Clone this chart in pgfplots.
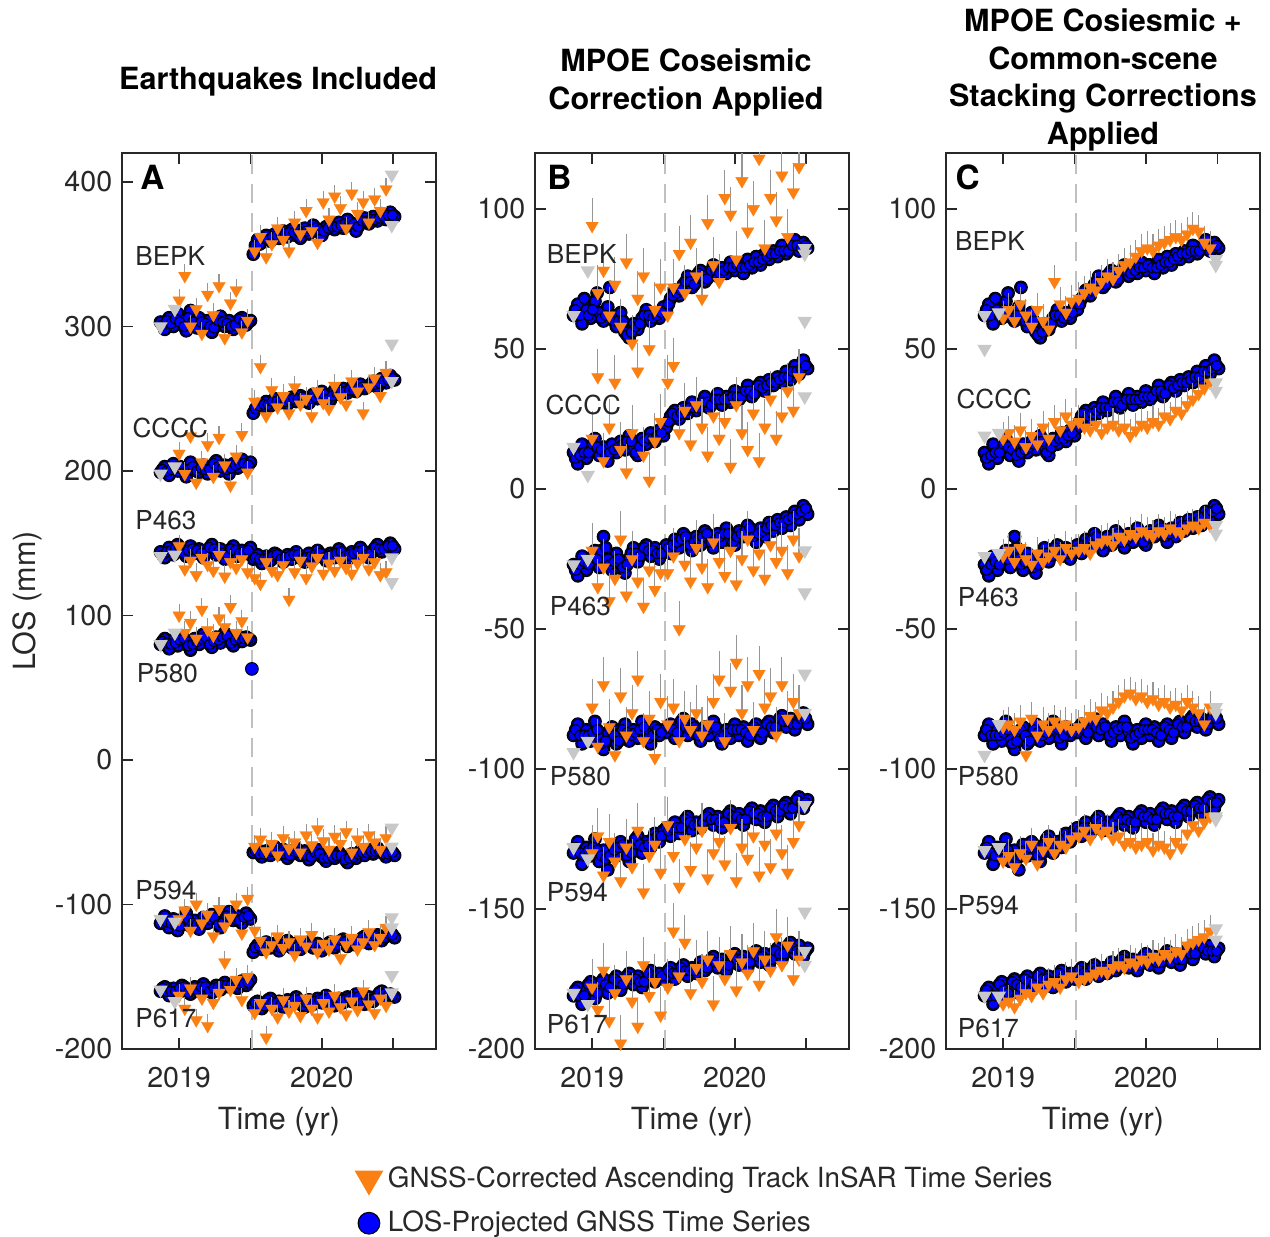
\documentclass[border=0pt]{standalone}
\usepackage{fontspec}
\setmainfont{TeX Gyre Heros}
\usepackage{pgfplots}
\pgfplotsset{compat=1.18}
\usepackage{pgfplotstable}
\definecolor{gblue}{RGB}{0,0,255}
\definecolor{iorange}{RGB}{250,128,20}
\definecolor{lgray}{RGB}{200,200,200}
\definecolor{qgray}{RGB}{192,192,192}
\definecolor{ebgray}{RGB}{150,150,150}
\definecolor{axgray}{RGB}{40,40,40}

% GNSS, panel A (with coseismic steps)
\pgfplotstableread{
t bepk cccc p463 p580 p594 p617
2018.87 303 199 144 80 -113 -160
2018.90 298 203 140 84 -108 -157
2018.93 306 197 147 77 -116 -163
2018.96 300 205 142 83 -110 -158
2018.99 309 200 149 79 -118 -161
2019.02 304 202 145 86 -112 -156
2019.05 297 196 141 81 -106 -159
2019.08 311 206 148 76 -115 -162
2019.11 302 201 143 84 -111 -157
2019.14 306 199 146 80 -117 -160
2019.17 299 204 140 87 -109 -155
2019.20 304 198 145 82 -113 -158
2019.23 296 203 149 78 -107 -161
2019.26 301 207 142 85 -112 -156
2019.29 307 200 146 81 -116 -159
2019.32 300 204 139 88 -110 -154
2019.35 304 198 144 83 -105 -157
2019.38 298 205 148 79 -111 -155
2019.41 303 202 141 86 -108 -158
2019.44 306 208 145 82 -113 -153
2019.47 301 203 143 85 -106 -156
2019.50 304 206 147 83 -110 -152
2019.52 350 240 139 -64 -133 -170
2019.55 360 246 142 -62 -128 -167
2019.58 358 244 136 -67 -131 -172
2019.61 363 248 141 -63 -126 -168
2019.64 359 245 138 -66 -130 -165
2019.67 364 250 143 -60 -127 -170
2019.70 361 247 140 -65 -132 -167
2019.73 366 249 137 -62 -128 -171
2019.76 362 246 142 -68 -125 -166
2019.79 367 251 139 -64 -130 -169
2019.82 363 248 144 -61 -127 -164
2019.85 361 252 140 -66 -131 -168
2019.88 368 249 137 -63 -128 -171
2019.91 364 247 143 -69 -126 -166
2019.94 370 253 139 -65 -130 -169
2019.97 366 250 145 -62 -127 -165
2020.00 363 255 141 -67 -132 -168
2020.03 369 251 138 -70 -129 -163
2020.06 371 249 143 -66 -126 -167
2020.09 367 256 140 -68 -130 -170
2020.12 372 253 146 -64 -127 -165
2020.15 368 257 142 -67 -124 -168
2020.18 374 254 139 -71 -129 -164
2020.21 370 258 144 -65 -126 -167
2020.24 366 255 141 -68 -128 -162
2020.27 372 260 147 -63 -125 -166
2020.30 375 257 143 -66 -122 -169
2020.33 371 259 140 -62 -127 -164
2020.36 376 262 145 -65 -124 -167
2020.39 373 258 149 -61 -121 -163
2020.42 378 264 144 -64 -125 -160
2020.45 374 261 147 -67 -122 -165
2020.48 379 266 150 -63 -119 -162
2020.51 376 263 146 -66 -123 -164
}\tA

% GNSS, panel A, interleaved days
\pgfplotstableread{
t bepk cccc p463 p580 p594 p617
2018.885 301 201 142 82 -111 -158
2018.915 304 200 144 81 -112 -160
2018.945 302 201 145 80 -113 -160
2018.975 305 202 146 81 -114 -160
2019.005 303 203 147 83 -115 -158
2019.035 300 199 143 84 -109 -157
2019.065 306 201 145 79 -110 -161
2019.095 303 203 146 80 -113 -159
2019.125 299 200 145 82 -114 -159
2019.155 303 202 143 84 -113 -157
2019.185 302 201 143 85 -111 -157
2019.215 300 201 147 80 -110 -160
2019.245 299 205 146 82 -109 -158
2019.275 304 203 144 83 -114 -157
2019.305 303 202 143 85 -113 -156
2019.335 302 201 142 86 -108 -156
2019.365 300 202 146 81 -108 -156
2019.395 301 204 145 83 -110 -157
2019.425 305 205 143 84 -111 -155
2019.455 303 205 144 84 -109 -155
2019.485 303 204 145 84 -108 -154
2019.535 356 243 140 -63 -130 -168
2019.565 357 245 139 -65 -129 -170
2019.595 361 246 139 -65 -128 -170
2019.625 360 246 140 -64 -128 -166
2019.655 362 248 141 -63 -128 -168
2019.685 363 248 142 -63 -129 -168
2019.715 364 248 139 -64 -130 -169
2019.745 364 248 140 -65 -127 -168
2019.775 365 249 141 -66 -127 -168
2019.805 365 250 142 -63 -128 -166
2019.835 366 250 142 -64 -129 -166
2019.865 365 251 139 -65 -129 -170
2019.895 366 248 140 -66 -127 -168
2019.925 367 250 141 -67 -128 -168
2019.955 368 251 142 -64 -128 -167
2019.985 367 252 143 -65 -129 -166
2020.015 366 253 140 -68 -130 -165
2020.045 368 250 141 -68 -127 -165
2020.075 369 252 142 -67 -128 -169
2020.105 369 254 143 -66 -128 -167
2020.135 370 255 144 -66 -125 -166
2020.165 371 255 141 -69 -126 -166
2020.195 372 256 142 -68 -127 -165
2020.225 371 256 143 -67 -127 -164
2020.255 369 257 144 -65 -126 -164
2020.285 373 258 145 -64 -123 -168
2020.315 373 258 142 -64 -124 -166
2020.345 374 260 143 -63 -125 -166
2020.375 374 260 147 -63 -122 -165
2020.405 375 261 146 -63 -123 -161
2020.435 376 262 146 -65 -123 -162
2020.465 377 263 148 -65 -120 -163
2020.495 377 264 148 -64 -121 -163
}\tAb

% GNSS, panels B and C
\pgfplotstableread{
t bepk cccc p463 p580 p594 p617
2018.87 62 13 -27 -88 -130 -181
2018.90 66 9 -31 -84 -126 -178
2018.93 59 16 -24 -91 -134 -184
2018.96 64 11 -29 -86 -128 -179
2018.99 61 14 -26 -90 -131 -176
2019.02 67 18 -22 -83 -125 -182
2019.05 63 12 -28 -89 -133 -178
2019.08 60 15 -17 -93 -129 -175
2019.11 65 10 -25 -87 -136 -180
2019.14 62 16 -29 -85 -127 -177
2019.17 58 13 -23 -91 -131 -174
2019.20 63 17 -27 -88 -126 -179
2019.23 56 14 -30 -84 -129 -176
2019.26 54 19 -25 -90 -133 -173
2019.29 59 15 -21 -86 -127 -177
2019.32 57 12 -26 -89 -124 -174
2019.35 61 18 -23 -83 -130 -178
2019.38 64 16 -20 -87 -126 -175
2019.41 60 20 -24 -91 -128 -172
2019.44 63 17 -21 -85 -123 -176
2019.47 61 21 -25 -88 -126 -173
2019.50 65 19 -22 -86 -122 -175
2019.52 64 22 -20 -87 -121 -174
2019.55 68 26 -23 -84 -124 -171
2019.58 71 28 -18 -89 -119 -175
2019.61 69 25 -21 -85 -123 -172
2019.64 73 29 -16 -82 -120 -170
2019.67 76 27 -19 -88 -117 -174
2019.70 72 31 -22 -84 -122 -171
2019.73 75 28 -17 -86 -119 -173
2019.76 78 30 -20 -90 -121 -169
2019.79 74 33 -15 -85 -118 -172
2019.82 77 29 -18 -88 -116 -170
2019.85 80 31 -21 -83 -120 -167
2019.88 76 34 -16 -87 -117 -171
2019.91 79 30 -19 -91 -121 -168
2019.94 77 33 -14 -86 -118 -172
2019.97 81 31 -18 -89 -115 -169
2020.00 78 35 -20 -84 -119 -166
2020.03 80 32 -15 -88 -116 -170
2020.06 77 34 -17 -85 -120 -167
2020.09 82 37 -13 -90 -117 -171
2020.12 79 33 -16 -87 -114 -168
2020.15 83 36 -19 -84 -118 -165
2020.18 80 38 -14 -89 -115 -169
2020.21 84 35 -17 -86 -119 -166
2020.24 82 39 -12 -83 -116 -170
2020.27 85 37 -15 -87 -113 -167
2020.30 83 40 -11 -84 -117 -164
2020.33 87 38 -14 -81 -114 -168
2020.36 84 42 -10 -85 -112 -165
2020.39 86 39 -13 -82 -116 -162
2020.42 89 44 -8 -86 -113 -166
2020.45 85 41 -11 -83 -110 -163
2020.48 88 46 -6 -80 -114 -167
2020.51 86 43 -9 -84 -111 -164
}\tB

% GNSS, panels B and C, interleaved days
\pgfplotstableread{
t bepk cccc p463 p580 p594 p617
2018.885 64 11 -29 -86 -128 -179
2018.915 62 12 -27 -88 -130 -181
2018.945 68 13 -26 -88 -131 -181
2018.975 62 13 -27 -88 -129 -177
2019.005 64 16 -24 -87 -128 -179
2019.035 70 15 -25 -86 -129 -180
2019.065 61 14 -22 -91 -131 -176
2019.095 62 12 -21 -90 -132 -177
2019.125 72 13 -27 -86 -131 -178
2019.155 60 14 -26 -88 -129 -175
2019.185 60 15 -25 -90 -128 -176
2019.215 60 16 -28 -86 -127 -177
2019.245 55 17 -27 -87 -131 -174
2019.275 56 17 -23 -88 -130 -175
2019.305 58 13 -23 -87 -125 -175
2019.335 59 15 -24 -86 -127 -176
2019.365 62 17 -21 -85 -128 -176
2019.395 62 18 -22 -89 -127 -173
2019.425 61 18 -22 -88 -125 -174
2019.455 62 19 -23 -86 -124 -174
2019.485 63 20 -23 -87 -124 -174
2019.535 66 24 -21 -85 -122 -172
2019.565 69 27 -20 -86 -121 -173
2019.595 70 26 -19 -87 -121 -173
2019.625 71 27 -18 -83 -121 -171
2019.655 74 28 -17 -85 -118 -172
2019.685 74 29 -20 -86 -119 -172
2019.715 73 29 -19 -85 -120 -172
2019.745 77 29 -18 -88 -120 -171
2019.775 76 31 -17 -87 -119 -170
2019.805 75 31 -16 -86 -117 -171
2019.835 78 30 -19 -85 -118 -168
2019.865 78 32 -18 -85 -118 -169
2019.895 77 32 -17 -89 -119 -169
2019.925 78 32 -16 -88 -119 -170
2019.955 79 32 -16 -87 -116 -170
2019.985 79 33 -19 -86 -117 -167
2020.015 80 33 -17 -86 -117 -168
2020.045 79 33 -16 -86 -118 -168
2020.075 79 35 -15 -87 -118 -169
2020.105 80 35 -14 -88 -115 -169
2020.135 81 34 -17 -85 -116 -166
2020.165 81 37 -16 -86 -116 -167
2020.195 82 36 -15 -87 -117 -167
2020.225 83 37 -14 -84 -117 -168
2020.255 84 38 -13 -85 -114 -168
2020.285 84 38 -13 -85 -115 -165
2020.315 85 39 -12 -82 -115 -166
2020.345 85 40 -12 -83 -113 -166
2020.375 85 40 -11 -83 -114 -163
2020.405 87 42 -10 -84 -114 -164
2020.435 87 42 -9 -84 -111 -165
2020.465 86 43 -8 -82 -112 -165
2020.495 87 44 -7 -82 -112 -165
}\tBb

% InSAR, panel A
\pgfplotstableread{
t bepk cccc p463 p580 p594 p617
2019.00 318 212 148 100 -110 -163
2019.04 335 198 132 88 -104 -172
2019.08 300 224 138 95 -118 -158
2019.12 312 192 128 84 -100 -180
2019.16 295 206 140 104 -113 -165
2019.20 322 218 135 90 -107 -184
2019.24 308 196 131 86 -122 -168
2019.28 328 223 142 98 -103 -161
2019.32 292 204 127 92 -115 -140
2019.36 316 190 137 106 -109 -159
2019.40 325 210 133 88 -100 -152
2019.44 296 225 139 96 -120 -166
2019.48 304 199 130 85 -96 -150
2019.53 352 248 126 -60 -118 -175
2019.57 362 272 122 -55 -125 -168
2019.61 348 238 137 -63 -133 -192
2019.65 357 256 131 -58 -128 -172
2019.69 368 244 128 -66 -122 -178
2019.73 360 252 135 -54 -130 -166
2019.77 352 240 111 -61 -126 -174
2019.81 372 258 130 -57 -135 -170
2019.85 364 246 138 -64 -124 -177
2019.89 380 250 126 -52 -129 -165
2019.93 366 238 134 -59 -121 -172
2019.97 358 255 140 -48 -133 -178
2020.01 386 247 129 -56 -127 -168
2020.05 374 243 136 -62 -131 -174
2020.09 390 259 131 -53 -124 -163
2020.13 382 251 138 -58 -137 -171
2020.17 368 246 133 -50 -128 -176
2020.21 392 262 129 -64 -123 -167
2020.25 378 255 136 -55 -131 -173
2020.29 386 240 140 -60 -126 -160
2020.33 372 258 132 -52 -119 -169
2020.37 388 264 137 -57 -128 -175
2020.41 380 252 128 -62 -123 -165
2020.45 395 268 130 -54 -116 -170
}\iA

% InSAR, panel B
\pgfplotstableread{
t bepk cccc p463 p580 p594 p617
2019.00 94 18 -22 -78 -130 -178
2019.04 70 40 -35 -92 -124 -186
2019.08 78 10 -28 -70 -138 -172
2019.12 62 22 -40 -85 -126 -190
2019.16 73 38 -32 -95 -133 -180
2019.20 58 14 -18 -74 -140 -198
2019.24 81 6 -38 -88 -128 -175
2019.28 52 20 -25 -80 -135 -183
2019.32 68 42 -33 -68 -122 -192
2019.36 76 12 -42 -90 -144 -170
2019.40 50 3 -29 -82 -131 -181
2019.44 64 17 -36 -96 -127 -176
2019.48 72 24 -30 -76 -137 -188
2019.53 62 38 -30 -84 -120 -178
2019.57 72 44 -24 -78 -131 -158
2019.61 84 20 -50 -90 -142 -174
2019.65 70 28 -27 -82 -125 -162
2019.69 88 16 -33 -86 -136 -180
2019.73 76 30 -21 -80 -128 -171
2019.77 68 22 -28 -88 -122 -176
2019.81 95 12 -35 -84 -139 -168
2019.85 80 26 -19 -76 -130 -184
2019.89 74 18 -26 -68 -126 -170
2019.93 104 24 -31 -90 -134 -175
2019.97 98 8 -22 -72 -121 -166
2020.01 82 30 -34 -62 -140 -179
2020.05 110 20 -25 -80 -128 -169
2020.09 92 14 -18 -70 -132 -173
2020.13 100 27 -29 -86 -124 -165
2020.17 118 10 -23 -66 -138 -177
2020.21 86 22 -32 -78 -127 -168
2020.25 104 32 -20 -74 -135 -172
2020.29 96 18 -26 -88 -123 -160
2020.33 112 26 -22 -70 -130 -170
2020.37 90 35 -30 -82 -137 -163
2020.41 106 28 -18 -76 -126 -175
2020.45 115 40 -24 -80 -120 -168
}\iB

% InSAR, panel C
\pgfplotstableread{
t bepk cccc p463 p580 p594 p617
2019.00 61 18 -24 -85 -133 -184
2019.04 64 20 -22 -84 -131 -183
2019.08 60 17 -26 -86 -135 -185
2019.12 66 21 -21 -83 -130 -182
2019.16 62 15 -25 -95 -132 -180
2019.20 58 19 -27 -82 -127 -181
2019.24 64 16 -23 -88 -134 -178
2019.28 60 22 -26 -84 -129 -180
2019.32 57 18 -24 -86 -126 -177
2019.36 74 24 -22 -83 -130 -176
2019.40 66 21 -25 -85 -127 -178
2019.44 63 26 -21 -84 -128 -175
2019.48 67 23 -23 -86 -125 -174
2019.53 68 24 -22 -85 -124 -176
2019.57 70 22 -21 -83 -122 -175
2019.61 72 21 -23 -81 -125 -174
2019.65 71 23 -20 -82 -121 -173
2019.69 74 20 -19 -79 -123 -172
2019.73 76 22 -18 -80 -122 -173
2019.77 75 23 -20 -78 -125 -171
2019.81 78 21 -17 -76 -124 -170
2019.85 80 22 -18 -74 -127 -171
2019.89 81 19 -16 -73 -126 -169
2019.93 83 21 -17 -75 -128 -170
2019.97 85 23 -15 -74 -127 -168
2020.01 86 22 -16 -76 -126 -169
2020.05 85 24 -17 -75 -129 -167
2020.09 87 23 -15 -77 -127 -168
2020.13 88 26 -16 -76 -128 -166
2020.17 89 25 -14 -78 -130 -167
2020.21 90 28 -15 -77 -126 -165
2020.25 89 27 -16 -79 -128 -166
2020.29 91 30 -14 -76 -123 -163
2020.33 93 32 -13 -78 -120 -162
2020.37 92 34 -14 -80 -122 -161
2020.41 88 36 -12 -84 -119 -160
2020.45 86 38 -13 -78 -117 -158
}\iC

\pgfplotsset{
  panel/.style={
    scale only axis, width=113.04pt, height=322.56pt,
    xmin=2018.6, xmax=2020.8,
    xtick={2019,2019.5,2020,2020.5}, xticklabels={2019,,2020,},
    tick align=inside, major tick length=4pt,
    axis line style={axgray, line width=0.5pt},
    every tick/.style={axgray, line width=0.5pt},
    tick label style={font=\fontsize{10.3}{12}\selectfont, color=axgray},
    xticklabel style={yshift=-3pt},
    /pgf/number format/assume math mode=true,
    xlabel={Time (yr)},
    xlabel style={font=\fontsize{11}{13}\selectfont, color=axgray, at={(rel axis cs:0.5,-0.081)}, anchor=center},
    title style={font=\bfseries\fontsize{11}{13.5}\selectfont, align=center, anchor=center},
    clip mode=individual,
  },
  gnss/.style={only marks, mark=*, mark size=2.3pt,
    mark options={fill=gblue, draw=black, line width=0.35pt}},
  gnssfill/.style={only marks, mark=*, mark size=1.9pt,
    mark options={fill=gblue, draw=none}},
  insar/.style={only marks, mark=triangle*, mark size=2.6pt,
    mark options={rotate=180, fill=iorange, draw=iorange, line width=0.1pt},
    error bars/y dir=plus, error bars/y fixed=#1, error bars/error mark=none,
    error bars/error bar style={ebgray, line width=0.4pt}},
  grayi/.style={only marks, mark=triangle*, mark size=2.6pt,
    mark options={rotate=180, fill=lgray, draw=lgray}},
  quake/.style={draw=qgray, line width=0.8pt, dash pattern=on 7pt off 3.5pt},
}
\tikzset{
  stn/.style={anchor=west, inner sep=0pt, font=\fontsize{9.4}{11}\selectfont, text=black!85},
  plet/.style={anchor=north west, inner sep=0pt, font=\bfseries\fontsize{12}{14}\selectfont},
}

\begin{document}
\begin{tikzpicture}
\useasboundingbox (0,0) rectangle (457.2pt,444.96pt);

% ---------------- Panel A ----------------
\begin{axis}[panel, at={(43.92pt,67.32pt)}, anchor=south west,
  ymin=-200, ymax=420, ytick={-200,-100,0,100,200,300,400},
  ylabel={LOS (mm)},
  ylabel style={font=\fontsize{11}{13}\selectfont, color=axgray, at={(rel axis cs:-0.30,0.5)}, anchor=center},
  title={Earthquakes Included},
  title style={at={(rel axis cs:0.497,1.061)}},
]
\addplot[quake] coordinates {(2019.51,-200) (2019.51,420)};
\pgfplotsinvokeforeach{bepk,cccc,p463,p580,p594,p617}{
  \addplot[gnss] table[x=t,y=#1]{\tA};
  \addplot[gnss] table[x=t,y=#1]{\tAb};
}
\addplot[gnss] coordinates {(2019.51,63)};
\pgfplotsinvokeforeach{bepk,cccc,p463,p580,p594,p617}{
  \addplot[gnssfill] table[x=t,y=#1]{\tA};
  \addplot[gnssfill] table[x=t,y=#1]{\tAb};
}
\pgfplotsinvokeforeach{bepk,cccc,p463,p580,p594,p617}{
  \addplot[insar=8] table[x=t,y=#1]{\iA};
}
\addplot[grayi] coordinates {(2018.87,300) (2018.97,312) (2020.49,405) (2020.49,370)
 (2018.87,198) (2018.97,203) (2020.49,288) (2020.49,262)
 (2018.87,141) (2018.97,142) (2020.49,140) (2020.49,123)
 (2018.87,80) (2018.97,88) (2020.49,-47) (2020.49,-60)
 (2018.87,-110) (2018.97,-112) (2020.49,-109) (2020.49,-116)
 (2018.87,-159) (2018.97,-167) (2020.49,-149) (2020.49,-161)};
\node[plet] at (rel axis cs:0.057,0.987) {A};
\node[stn] at (axis cs:2018.69,349) {BEPK};
\node[stn] at (axis cs:2018.67,230) {CCCC};
\node[stn] at (axis cs:2018.69,166) {P463};
\node[stn] at (axis cs:2018.70,60) {P580};
\node[stn] at (axis cs:2018.69,-90) {P594};
\node[stn] at (axis cs:2018.69,-179) {P617};
\end{axis}

% ---------------- Panel B ----------------
\begin{axis}[panel, at={(192.6pt,67.32pt)}, anchor=south west,
  ymin=-200, ymax=120, ytick={-200,-150,-100,-50,0,50,100},
  title={MPOE Coseismic\\Correction Applied},
  title style={at={(rel axis cs:0.481,1.060)}},
  legend style={at={(rel axis cs:-0.60,-0.118)}, anchor=north west, draw=none, fill=none,
    font=\fontsize{10}{12}\selectfont, text=axgray, row sep=3pt},
  legend cell align=left,
]
\addlegendimage{only marks, mark=triangle*, mark size=5.6pt, mark options={rotate=180, fill=iorange, draw=iorange}}
\addlegendentry{GNSS-Corrected Ascending Track InSAR Time Series}
\addlegendimage{only marks, mark=*, mark size=3.9pt, mark options={fill=gblue, draw=black, line width=0.4pt}}
\addlegendentry{LOS-Projected GNSS Time Series}
\addplot[quake] coordinates {(2019.51,-200) (2019.51,120)};
\pgfplotsinvokeforeach{bepk,cccc,p463,p580,p594,p617}{
  \addplot[gnss] table[x=t,y=#1]{\tB};
  \addplot[gnss] table[x=t,y=#1]{\tBb};
}
\pgfplotsinvokeforeach{bepk,cccc,p463,p580,p594,p617}{
  \addplot[gnssfill] table[x=t,y=#1]{\tB};
  \addplot[gnssfill] table[x=t,y=#1]{\tBb};
}
\pgfplotsinvokeforeach{bepk,cccc,p463,p580,p594,p617}{
  \addplot[insar=10] table[x=t,y=#1]{\iB};
}
\addplot[grayi] coordinates {(2018.87,62) (2018.97,78) (2020.49,86) (2020.49,84)
 (2018.87,15) (2018.97,5) (2020.49,60) (2020.49,33)
 (2018.87,-27) (2018.97,-25) (2020.49,-22) (2020.49,-37)
 (2018.87,-94) (2018.97,-90) (2020.49,-66) (2020.49,-80)
 (2018.87,-128) (2018.97,-132) (2020.49,-113) (2020.49,-151)
 (2018.87,-180) (2018.97,-184) (2020.49,-165) (2020.49,-170)};
\node[plet] at (rel axis cs:0.038,0.987) {B};
\node[stn] at (axis cs:2018.68,84) {BEPK};
\node[stn] at (axis cs:2018.67,30) {CCCC};
\node[stn] at (axis cs:2018.70,-42) {P463};
\node[stn] at (axis cs:2018.70,-102.5) {P580};
\node[stn] at (axis cs:2018.68,-144) {P594};
\node[stn] at (axis cs:2018.68,-191) {P617};
\end{axis}

% ---------------- Panel C ----------------
\begin{axis}[panel, at={(340.56pt,67.32pt)}, anchor=south west,
  ymin=-200, ymax=120, ytick={-200,-150,-100,-50,0,50,100},
  title={MPOE Cosiesmic +\\Common-scene\\Stacking Corrections\\Applied},
  title style={at={(rel axis cs:0.5,1.063)}},
]
\addplot[quake] coordinates {(2019.51,-200) (2019.51,120)};
\pgfplotsinvokeforeach{bepk,cccc,p463,p580,p594,p617}{
  \addplot[gnss] table[x=t,y=#1]{\tB};
  \addplot[gnss] table[x=t,y=#1]{\tBb};
}
\pgfplotsinvokeforeach{bepk,cccc,p463,p580,p594,p617}{
  \addplot[gnssfill] table[x=t,y=#1]{\tB};
  \addplot[gnssfill] table[x=t,y=#1]{\tBb};
}
\pgfplotsinvokeforeach{bepk,cccc,p463,p580,p594,p617}{
  \addplot[insar=6] table[x=t,y=#1]{\iC};
}
\addplot[grayi] coordinates {(2018.87,62) (2018.97,63) (2018.87,50) (2020.49,82) (2020.49,80)
 (2018.87,19) (2018.97,20) (2020.49,38) (2020.49,35)
 (2018.87,-24) (2018.97,-23) (2020.49,-13) (2020.49,-16)
 (2018.87,-95) (2018.97,-84) (2020.49,-78) (2020.49,-80)
 (2018.87,-129) (2018.97,-128) (2020.49,-117) (2020.49,-118)
 (2018.87,-181) (2018.97,-181) (2020.49,-161) (2020.49,-157)};
\node[plet] at (rel axis cs:0.029,0.987) {C};
\node[stn] at (axis cs:2018.66,88.5) {BEPK};
\node[stn] at (axis cs:2018.67,32) {CCCC};
\node[stn] at (axis cs:2018.68,-38.7) {P463};
\node[stn] at (axis cs:2018.68,-102.5) {P580};
\node[stn] at (axis cs:2018.68,-148.7) {P594};
\node[stn] at (axis cs:2018.68,-192.5) {P617};
\end{axis}
\end{tikzpicture}
\end{document}
